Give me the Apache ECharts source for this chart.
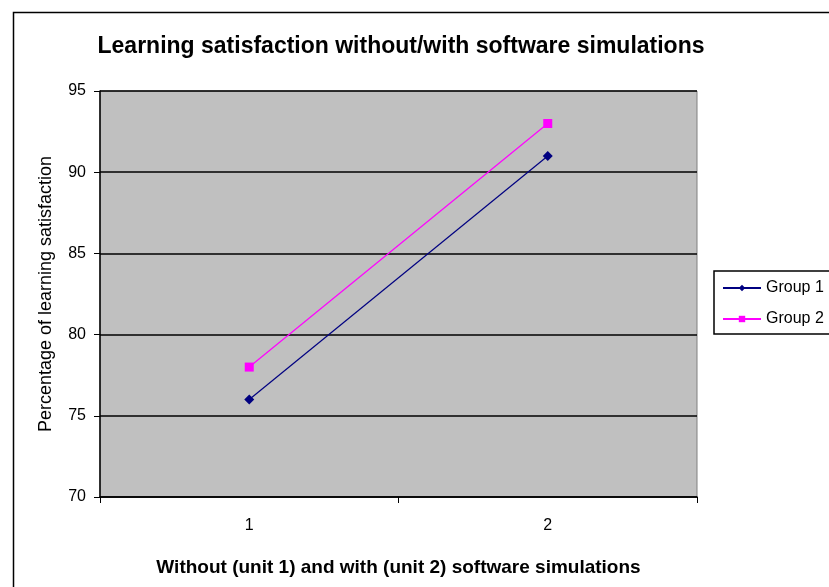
<!DOCTYPE html>
<html>
<head>
<meta charset="utf-8">
<script src="https://cdn.jsdelivr.net/npm/echarts@6/dist/echarts.min.js"></script>
<style>
  html, body { margin: 0; padding: 0; background: #fff; }
  #chart { width: 829px; height: 587px; }
</style>
</head>
<body>
<div id="chart"></div>
<script>
// units on the x axis
var units = ["1", "2"];
// learning satisfaction (%) per group
var group1 = [76, 91];
var group2 = [78, 93];

var font = "Arial, 'Liberation Sans', sans-serif";
var myChart = echarts.init(document.getElementById("chart"));

myChart.setOption({
  animation: false,
  backgroundColor: "#fff",
  title: {
    text: "Learning satisfaction without/with software simulations",
    left: 396,
    top: 30,
    textAlign: "center",
    textStyle: { fontFamily: font, fontSize: 23, fontWeight: "bold", color: "#000" }
  },
  graphic: [
    {
      type: "rect",
      left: 11,
      top: 10,
      shape: { width: 900, height: 700 },
      style: { fill: "none", stroke: "#000", lineWidth: 1.5 },
      z: 100
    }
  ],
  legend: {
    orient: "vertical",
    left: 714,
    top: 271,
    padding: [9, 40, 7, 8],
    itemGap: 15,
    itemWidth: 38,
    itemHeight: 8,
    borderColor: "#000",
    borderWidth: 1.5,
    backgroundColor: "#fff",
    textStyle: { fontFamily: font, fontSize: 16, color: "#000" },
    data: ["Group 1", "Group 2"]
  },
  grid: {
    left: 100,
    top: 91,
    width: 597,
    height: 406,
    outerBoundsMode: "none",
    containLabel: false,
    show: true,
    backgroundColor: "#c0c0c0",
    borderColor: "#808080",
    borderWidth: 1
  },
  xAxis: {
    type: "category",
    data: units,
    boundaryGap: true,
    name: "Without (unit 1) and with (unit 2) software simulations",
    nameLocation: "middle",
    nameGap: 61,
    nameTextStyle: { fontFamily: font, fontSize: 19, fontWeight: "bold", color: "#000" },
    axisLine: { lineStyle: { color: "#000", width: 1.5 } },
    axisTick: { show: true, length: 6, lineStyle: { color: "#000" } },
    axisLabel: { fontFamily: font, fontSize: 16, color: "#000", margin: 21 },
    splitLine: { show: false }
  },
  yAxis: {
    type: "value",
    min: 70,
    max: 95,
    interval: 5,
    name: "Percentage of learning satisfaction",
    nameLocation: "middle",
    nameGap: 45,
    nameTextStyle: { fontFamily: font, fontSize: 18, color: "#000" },
    axisLine: { show: true, lineStyle: { color: "#000", width: 1.5 } },
    axisTick: { show: true, length: 6, lineStyle: { color: "#000" } },
    axisLabel: { fontFamily: font, fontSize: 16, color: "#000", margin: 14 },
    splitLine: { show: true, lineStyle: { color: "#000", width: 1.5 } }
  },
  series: [
    {
      name: "Group 1",
      type: "line",
      data: group1,
      symbol: "diamond",
      symbolSize: 10,
      itemStyle: { color: "#000080" },
      lineStyle: { color: "#000080", width: 1.2 }
    },
    {
      name: "Group 2",
      type: "line",
      data: group2,
      symbol: "rect",
      symbolSize: 9,
      itemStyle: { color: "#ff00ff" },
      lineStyle: { color: "#ff00ff", width: 1.2 }
    }
  ]
});
</script>
</body>
</html>
